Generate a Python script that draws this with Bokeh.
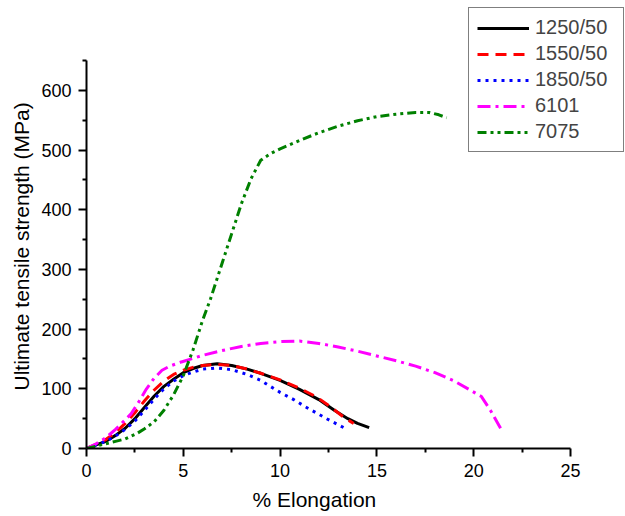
from bokeh.plotting import figure
from bokeh.models import Legend, LegendItem, FixedTicker, Range1d, Title
from bokeh.embed import file_html
from bokeh.resources import INLINE

# Data
x_1250 = [0, 0.5, 1, 1.5, 2, 2.5, 3, 3.5, 4, 4.5, 5, 5.5, 6, 6.75, 7.5, 8.3, 9, 10, 11, 12, 12.8, 13.5, 14, 14.6]
y_1250 = [0, 6, 12, 22, 34, 50, 69, 88, 104, 116, 127, 134, 139, 142, 139, 133, 126, 114, 99, 82, 64, 50, 42, 35]

x_1550 = [0, 0.5, 1, 1.5, 2, 2.5, 3, 3.5, 4, 4.5, 5, 5.5, 6, 6.75, 7.5, 8.3, 9, 10, 11, 11.9, 12.6, 13.3, 13.8]
y_1550 = [0, 7, 15, 27, 42, 60, 80, 98, 113, 124, 131, 136, 139, 141, 139, 133, 126, 115, 101, 86, 70, 52, 42]

x_1850 = [0, 0.5, 1, 1.5, 2, 2.5, 3, 3.5, 4, 4.5, 5, 5.5, 6, 6.75, 7.5, 8.3, 9, 10, 10.7, 11.3, 12.4, 13.4]
y_1850 = [0, 6, 12, 21, 32, 46, 64, 83, 100, 113, 122, 128, 133, 135, 132, 124, 114, 94, 82, 70, 50, 33]

x_6101 = [0, 0.5, 1, 1.5, 2, 2.3, 2.7, 3.1, 3.5, 3.9, 4.3, 4.9, 6, 7, 8, 9, 10, 11, 12, 13, 14, 15, 16, 17, 18, 19, 20.4, 20.9, 21.4]
y_6101 = [0, 8, 18, 32, 48, 58, 78, 100, 118, 131, 138, 145, 156, 164, 171, 176, 179, 180, 176, 170, 163, 155, 147, 138, 127, 113, 87, 62, 33]

x_7075 = [0, 0.5, 1, 1.5, 2, 2.6, 3, 3.5, 4, 4.5, 5, 5.5, 6, 6.4, 7, 7.5, 8, 8.5, 9, 9.5, 10, 11, 12, 13, 14, 15, 16, 17, 17.7, 18.2, 18.6]
y_7075 = [0, 4, 8, 12, 16, 25, 33, 45, 64, 90, 122, 165, 215, 250, 310, 360, 410, 452, 483, 494, 502, 516, 529, 540, 549, 556, 560, 563, 563, 559, 554]

labels = ["1250/50", "1550/50", "1850/50", "6101", "7075"]
x_ticks = [0, 5, 10, 15, 20, 25]
y_ticks = [0, 100, 200, 300, 400, 500, 600]

FONT = "Liberation Sans"

# Frame spans the whole upper-right canvas so the legend can sit above the axis top;
# axes are limited with bounds to 0..25 and 0..650.
p = figure(width=625, height=516, output_backend="svg", toolbar_location=None,
           x_range=Range1d(0, 27.84), y_range=Range1d(0, 750.5),
           min_border_left=86, min_border_right=0, min_border_top=0, min_border_bottom=68)
p.outline_line_color = None
p.xgrid.visible = False
p.ygrid.visible = False
p.background_fill_color = "white"
p.border_fill_color = "white"

series = [
    (x_1250, y_1250, "#000000", "solid", 3),
    (x_1550, y_1550, "#ff0000", "11 7", 3),
    (x_1850, y_1850, "#0000ff", "3 5", 3),
    (x_6101, y_6101, "#ff00ff", "13 5 3 5", 3),
    (x_7075, y_7075, "#008000", "9 4 3 4 3 4", 3),
]
items = []
for (xs, ys, c, dash, w), lab in zip(series, labels):
    r = p.line(xs, ys, line_color=c, line_dash=dash, line_width=w)
    items.append(LegendItem(label=lab, renderers=[r]))

legend = Legend(items=items, location=(382, 296), label_text_font=FONT,
                label_text_font_size="20px", glyph_width=52, glyph_height=22,
                label_height=22, spacing=3, padding=8, margin=0,
                border_line_color="black", border_line_width=1,
                background_fill_alpha=1, label_standoff=6, label_width=80)
p.add_layout(legend, "center")

for ax in (p.xaxis[0], p.yaxis[0]):
    ax.axis_line_width = 2
    ax.major_tick_line_width = 2
    ax.minor_tick_line_width = 2
    ax.major_tick_out = 8
    ax.major_tick_in = 0
    ax.minor_tick_out = 4
    ax.minor_tick_in = 0
    ax.major_label_text_font = FONT
    ax.major_label_text_font_size = "18px"
    ax.major_label_text_color = "black"

p.xaxis.bounds = (0, 25)
p.yaxis.bounds = (0, 650)
p.xaxis.ticker = FixedTicker(ticks=x_ticks, minor_ticks=[2.5, 7.5, 12.5, 17.5, 22.5])
p.yaxis.ticker = FixedTicker(ticks=y_ticks, minor_ticks=[50, 150, 250, 350, 450, 550, 650])
p.xaxis.major_label_standoff = 7
p.yaxis.major_label_standoff = 7

xt = Title(text="% Elongation", align="left", offset=166, standoff=12, text_font=FONT,
           text_font_size="21px", text_font_style="normal", text_color="black")
yt = Title(text="Ultimate tensile strength (MPa)", align="left", offset=58, standoff=12,
           text_font=FONT, text_font_size="21px", text_font_style="normal", text_color="black")
p.add_layout(xt, "below")
p.add_layout(yt, "left")

open("out.html", "w").write(file_html(p, INLINE))
